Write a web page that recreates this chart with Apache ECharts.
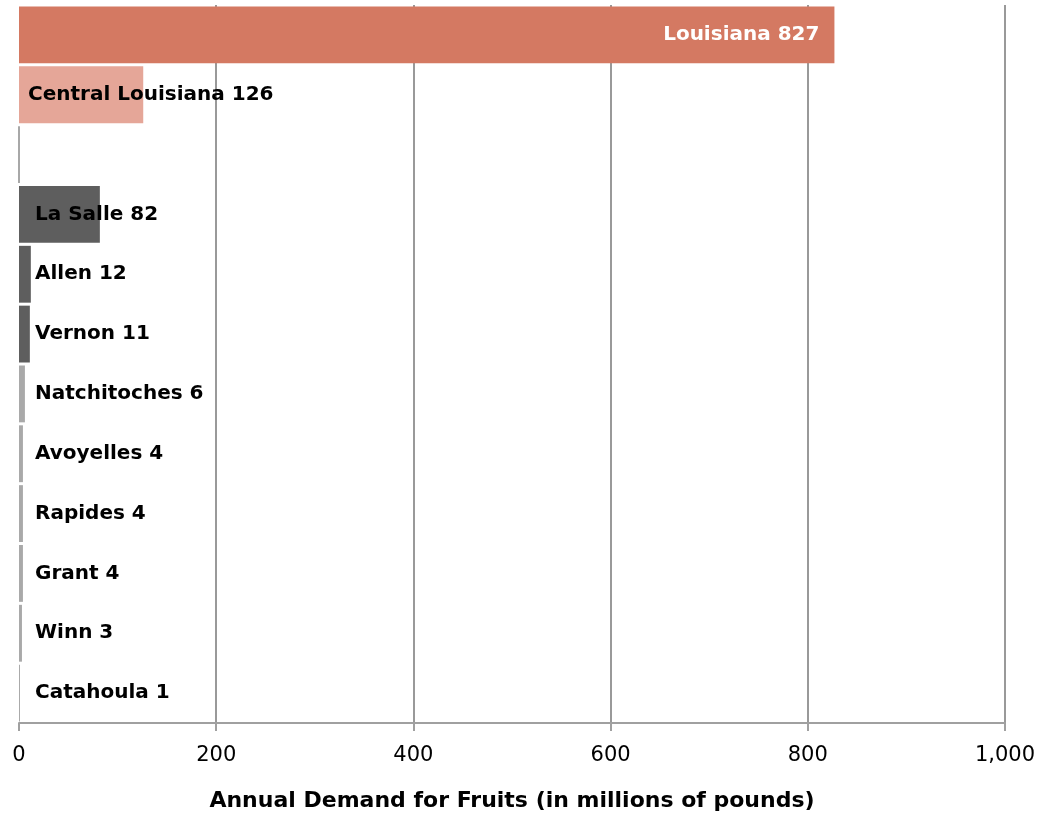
<!DOCTYPE html>
<html>
<head>
<meta charset="utf-8">
<script src="https://cdn.jsdelivr.net/npm/echarts@6/dist/echarts.min.js"></script>
<style>
html,body{margin:0;padding:0;background:#fff;}
#chart{width:1054px;height:817px;}
</style>
</head>
<body>
<div id="chart"></div>
<script>
const categories = ["Louisiana", "Central Louisiana", "", "La Salle", "Allen", "Vernon", "Natchitoches", "Avoyelles", "Rapides", "Grant", "Winn", "Catahoula"];
const values = [827, 126, 0, 82, 12, 11, 6, 4, 4, 4, 3, 1];
const groups = ["state", "region", "none", "top", "top", "top", "other", "other", "other", "other", "other", "other"];
const xTicks = [0, 200, 400, 600, 800, 1000];
const axisTitle = "Annual Demand for Fruits (in millions of pounds)";

const groupColors = {state: "#D47962", region: "#E5A698", none: "#8C8C8C", top: "#5E5E5E", other: "#A9A9A9"};
const FONT = "DejaVu Sans";

const data = values.map((v, i) => {
  const g = groups[i];
  const item = {value: v, itemStyle: {color: groupColors[g]}};
  if (g === "none") {
    item.itemStyle = {color: groupColors[g], borderColor: groupColors[g], borderWidth: 1.5};
    item.label = {show: false};
    return item;
  }
  if (g === "state") {
    item.label = {show: true, position: "insideRight", distance: 15, color: "#fff",
      formatter: categories[i] + " " + v};
  } else {
    item.label = {show: true, position: "insideLeft", distance: g === "region" ? 9 : 16, color: "#000",
      formatter: categories[i] + " " + v};
  }
  return item;
});

const chart = echarts.init(document.getElementById("chart"));
chart.setOption({
  animation: false,
  grid: {left: 19, right: 49, top: 5, bottom: 94, containLabel: false},
  xAxis: {
    type: "value", min: 0, max: 1000, interval: 200,
    axisLine: {show: true, lineStyle: {color: "#A0A0A0", width: 2}},
    axisTick: {show: true, length: 8, lineStyle: {color: "#A0A0A0", width: 2}},
    splitLine: {show: true, showMinLine: false, lineStyle: {color: "#999999", width: 2}},
    axisLabel: {color: "#000", fontFamily: FONT, fontSize: 21, margin: 22,
      formatter: v => xTicks.includes(v) ? v.toLocaleString("en-US") : ""},
    name: axisTitle, nameLocation: "middle", nameGap: 67,
    nameTextStyle: {color: "#000", fontFamily: FONT, fontWeight: "bold", fontSize: 22}
  },
  yAxis: {
    type: "category", data: categories, inverse: true,
    axisLine: {show: false}, axisTick: {show: false}, axisLabel: {show: false}, splitLine: {show: false}
  },
  series: [{
    type: "bar", data: data, barCategoryGap: "5%",
    label: {fontFamily: FONT, fontWeight: "bold", fontSize: 20}
  }]
});
</script>
</body>
</html>
